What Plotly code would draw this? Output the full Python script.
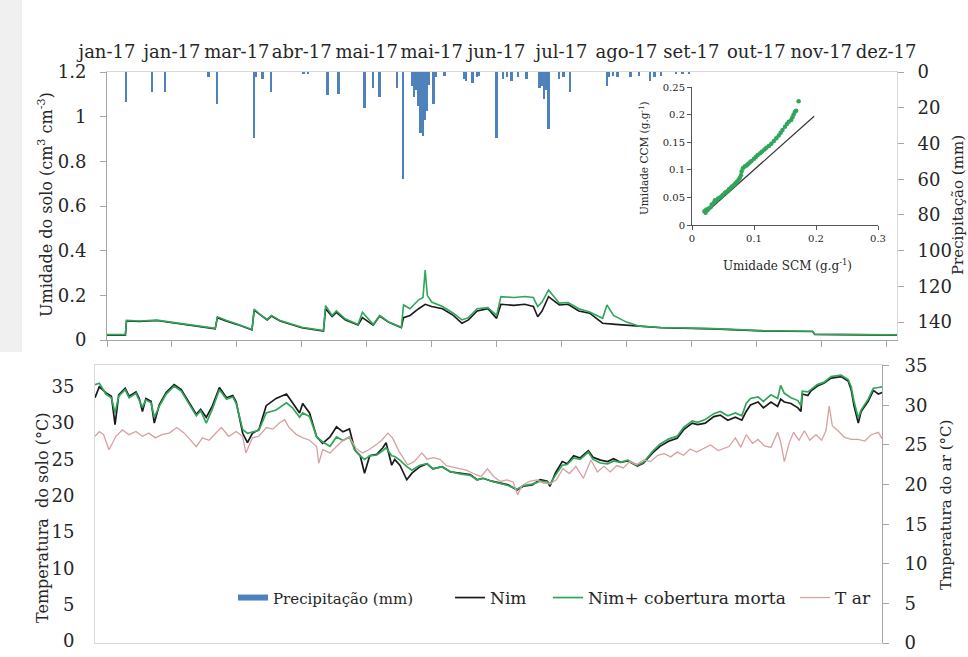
import plotly.graph_objects as go

# ---------------- dados ----------------
# eixo temporal: dias desde 01/01/2017, marcas a cada 30 dias
dias_marcas = [0, 30, 60, 90, 120, 150, 180, 210, 240, 270, 300, 330, 360]
meses = ["jan-17", "jan-17", "mar-17", "abr-17", "mai-17", "mai-17", "jun-17",
         "jul-17", "ago-17", "set-17", "out-17", "nov-17", "dez-17"]

# precipitação diária (mm)
chuva_dias = [9, 21, 27, 47, 51, 68, 69, 72, 76, 91, 93, 102, 107, 119, 123, 126, 134, 137,
              141, 142, 143, 144, 145, 146, 147, 148, 149, 151, 152, 156, 165, 166, 169, 171,
              172, 180, 183, 185, 187, 190, 194, 200, 201, 202, 203, 204, 209, 211, 214, 231,
              232, 234, 236, 242, 246, 251, 253, 256, 263, 266, 269]
chuva_mm = [17, 11, 11, 3, 18, 37, 3, 4, 11, 1, 1, 13, 12.5, 20, 9, 14, 9, 60,
            8, 14, 10, 19, 34, 36, 27, 22, 7, 18, 3, 2, 4, 5, 6, 3,
            2, 37, 4, 3, 5, 3, 4, 9, 8, 15, 10, 32, 4, 3, 11, 8,
            3, 2, 3, 3, 2, 5, 3, 2, 1, 1, 1]

# umidade do solo (cm3 cm-3) - Nim
um_dias_nim = [0, 8.5, 9, 15, 23, 30, 40, 50, 51, 55, 60, 67, 68, 71, 74, 76, 80, 90, 100, 101,
               104, 106, 110, 116, 118, 123, 126, 130, 136, 137, 140, 144, 147, 150, 155, 160,
               164, 167, 171, 176, 180, 182, 188, 193, 197, 199, 201, 204, 209, 213, 218, 223,
               229, 235, 246, 256, 280, 303, 326, 327, 365]
um_nim = [0.022, 0.022, 0.085, 0.083, 0.087, 0.078, 0.062, 0.05, 0.1, 0.085, 0.07, 0.045, 0.134,
          0.11, 0.09, 0.107, 0.085, 0.055, 0.04, 0.14, 0.105, 0.124, 0.09, 0.067, 0.1, 0.067,
          0.107, 0.08, 0.055, 0.1, 0.11, 0.14, 0.16, 0.15, 0.14, 0.11, 0.075, 0.09, 0.13, 0.14,
          0.097, 0.16, 0.155, 0.16, 0.15, 0.104, 0.13, 0.194, 0.157, 0.16, 0.13, 0.12, 0.075,
          0.07, 0.062, 0.055, 0.05, 0.04, 0.038, 0.025, 0.022]

# umidade do solo (cm3 cm-3) - Nim + cobertura morta
um_dias_cob = [0, 8.5, 9, 15, 23, 30, 40, 50, 51, 55, 60, 67, 68, 71, 74, 76, 80, 90, 100, 101,
               104, 106, 110, 116, 118, 123, 126, 130, 136, 137, 140, 144, 146, 147, 148, 150,
               155, 160, 164, 167, 171, 176, 180, 182, 188, 193, 197, 199, 201, 204, 209, 213,
               218, 223, 229, 231, 234, 240, 246, 256, 280, 303, 326, 327, 365]
um_cob = [0.024, 0.024, 0.088, 0.085, 0.089, 0.08, 0.064, 0.052, 0.104, 0.088, 0.072, 0.047,
          0.138, 0.112, 0.092, 0.11, 0.087, 0.057, 0.042, 0.154, 0.11, 0.13, 0.095, 0.07, 0.124,
          0.07, 0.11, 0.082, 0.057, 0.157, 0.14, 0.18, 0.19, 0.313, 0.2, 0.17, 0.15, 0.12, 0.09,
          0.1, 0.14, 0.145, 0.11, 0.194, 0.19, 0.195, 0.19, 0.15, 0.17, 0.224, 0.165, 0.168,
          0.14, 0.125, 0.097, 0.157, 0.11, 0.08, 0.062, 0.056, 0.051, 0.042, 0.039, 0.026, 0.023]

# dispersão: umidade sem (SCM) e com (CCM) cobertura morta (g g-1)
scm = [0.020, 0.022, 0.023, 0.025, 0.027, 0.030, 0.032, 0.035, 0.037, 0.040, 0.042, 0.045,
       0.048, 0.050, 0.053, 0.055, 0.058, 0.060, 0.063, 0.065, 0.068, 0.070, 0.072, 0.075,
       0.077, 0.079, 0.080, 0.082, 0.085, 0.088, 0.090, 0.093, 0.096, 0.100, 0.103, 0.106,
       0.110, 0.113, 0.117, 0.120, 0.124, 0.128, 0.132, 0.136, 0.140, 0.143, 0.146, 0.150,
       0.153, 0.156, 0.160, 0.162, 0.164, 0.166, 0.168, 0.172]
ccm = [0.025, 0.022, 0.028, 0.027, 0.030, 0.032, 0.037, 0.040, 0.045, 0.045, 0.048, 0.050,
       0.052, 0.055, 0.058, 0.060, 0.062, 0.065, 0.068, 0.070, 0.073, 0.075, 0.078, 0.082,
       0.085, 0.090, 0.097, 0.103, 0.106, 0.108, 0.110, 0.113, 0.116, 0.120, 0.123, 0.127,
       0.130, 0.133, 0.137, 0.140, 0.143, 0.147, 0.152, 0.157, 0.162, 0.167, 0.172, 0.178,
       0.183, 0.187, 0.190, 0.195, 0.200, 0.205, 0.207, 0.224]
linha_1_1 = [0.02, 0.197]

# temperatura do solo (°C) - Nim
t_dias = [0, 2, 5, 7.6, 9.3, 11, 14, 15.8, 19, 20.5, 22, 23.6, 26, 27.5, 29.8, 33, 36.7, 40,
          43.7, 47, 49, 51.6, 54.5, 57.7, 61, 63.9, 65.5, 68.5, 70.7, 73, 76, 79.4, 84, 88.8,
          91.6, 94.9, 96.3, 99.5, 102.8, 105.6, 109, 112, 115, 118, 120.5, 123, 125, 127.4,
          130.7, 133.5, 135, 137.6, 139, 141.4, 144.6, 147, 150.7, 154, 156.7, 161, 164.7,
          169.3, 174, 177.2, 180, 184, 188, 191.6, 195.8, 198.6, 202.8, 206.5, 209.8, 211,
          213.5, 216.7, 219, 222, 225, 228.8, 231, 234.4, 237.7, 240.5, 243.7, 247, 251.6,
          254.4, 258.6, 262, 266, 270, 273, 277, 279.5, 283, 287, 290, 293.5, 297, 300, 302,
          304, 307.5, 310, 313.5, 316.6, 318, 319.7, 322.8, 326, 327.4, 328, 330.6, 332, 335,
          338, 341.4, 346, 349.3, 350.7, 352, 354, 355.3, 358.6, 361, 363.3, 365]
t_nim = [33.5, 35.0, 34.2, 33.7, 29.8, 33.9, 34.8, 33.7, 34.3, 33.4, 31.6, 33.4, 33.0, 30.0,
         32.5, 34.2, 35.3, 34.6, 32.8, 31.2, 31.9, 30.8, 32.4, 34.9, 33.5, 33.8, 32.9, 28.6,
         27.3, 28.6, 29.1, 32.4, 33.4, 34.0, 32.8, 31.4, 32.7, 31.4, 28.1, 27.2, 28.1, 29.5,
         28.8, 29.2, 26.3, 25.5, 23.1, 25.5, 25.7, 26.6, 27.3, 24.2, 25.0, 24.2, 22.2, 23.1,
         24.0, 24.4, 23.7, 24.0, 23.3, 23.1, 22.9, 22.2, 22.4, 22.0, 21.7, 21.5, 20.8, 21.3,
         21.5, 22.2, 22.0, 21.3, 23.1, 24.7, 24.4, 25.5, 25.2, 26.2, 25.3, 24.9, 24.7, 25.1,
         24.6, 24.8, 24.1, 24.5, 25.9, 26.8, 27.5, 27.9, 29.1, 30.0, 29.8, 30.0, 30.9, 31.1,
         30.4, 30.8, 30.4, 31.6, 32.5, 32.9, 32.1, 32.9, 32.3, 33.3, 32.9, 32.7, 32.1, 31.6,
         34.0, 33.8, 34.4, 35.1, 35.5, 36.2, 36.4, 35.8, 34.6, 32.4, 30.0, 31.6, 33.0, 34.5,
         34.0, 34.2]

# temperatura do solo (°C) - Nim + cobertura morta
t_cob = [35.3, 35.5, 34.0, 33.5, 31.4, 33.7, 34.6, 33.5, 34.1, 33.2, 32.2, 33.2, 32.8, 30.8,
         32.3, 34.0, 35.1, 34.4, 32.6, 31.0, 31.7, 30.0, 32.0, 34.6, 33.3, 33.6, 32.7, 29.1,
         28.6, 28.8, 29.0, 31.4, 31.8, 32.8, 32.1, 30.8, 31.4, 30.9, 28.1, 27.4, 26.8, 28.1,
         27.6, 28.1, 26.3, 25.5, 25.0, 25.5, 25.6, 26.2, 26.6, 25.5, 25.4, 24.9, 24.0, 23.5,
         24.2, 24.4, 23.7, 24.0, 23.3, 23.0, 22.8, 22.2, 22.4, 22.0, 21.7, 21.4, 20.9, 21.4,
         21.6, 22.0, 21.9, 21.6, 22.8, 24.2, 24.3, 25.2, 25.0, 26.0, 25.0, 24.5, 24.4, 24.8,
         24.6, 24.9, 24.2, 24.6, 26.1, 27.1, 27.8, 28.2, 29.4, 30.3, 30.1, 30.5, 31.3, 31.6,
         31.0, 31.4, 31.0, 32.7, 33.4, 33.6, 33.0, 33.9, 33.4, 35.2, 34.1, 33.5, 33.1, 32.4,
         34.4, 34.3, 34.6, 35.3, 35.6, 36.4, 36.6, 36.0, 35.0, 33.0, 30.7, 31.8, 33.3, 34.8,
         34.9, 35.0]

# temperatura do ar (°C)
tar_dias = [0, 2, 4, 6.5, 9.7, 12.7, 15.8, 19, 22, 25, 28, 31, 34.4, 38, 41.4, 44.6, 47, 49.8,
            53, 55.3, 58.6, 62, 65.5, 68.4, 70, 73, 76, 79.5, 82.5, 85.6, 88, 90, 93.5, 96.5,
            99.5, 102.8, 103.8, 105.6, 109, 112, 115, 118, 121, 124, 127, 130.7, 133, 135.8,
            138, 141, 145, 148, 151.6, 154, 157, 160, 163, 166, 169, 172.5, 175.5, 179, 182,
            185, 188, 191, 194, 196, 198, 201.5, 205, 208, 211, 214, 217, 220, 223, 226.5, 230,
            233, 236, 239, 242, 245, 248, 251, 254.5, 257.7, 261, 264, 267, 270, 273, 276, 279,
            282, 285.5, 289, 291.5, 294, 297, 299.5, 302, 305, 307.5, 310.5, 313.5, 316.6, 318,
            319.7, 322, 324, 326.5, 329, 331.5, 334.4, 337, 339, 340.5, 342, 344.6, 347.5,
            350.7, 354, 357, 360, 363.3, 365]
t_ar = [26.1, 26.7, 26.3, 24.4, 26.1, 26.9, 26.3, 26.7, 26.1, 26.5, 25.9, 26.3, 26.5, 27.2,
        26.5, 25.6, 24.8, 25.9, 25.6, 26.3, 27.2, 26.1, 26.7, 26.1, 24.0, 25.9, 26.1, 27.2,
        27.0, 27.8, 28.2, 27.2, 26.3, 25.9, 25.6, 24.8, 22.7, 24.4, 24.0, 24.8, 25.6, 26.0,
        24.6, 24.0, 24.4, 25.1, 25.6, 26.5, 25.9, 24.2, 22.5, 22.9, 24.0, 23.2, 23.4, 23.2,
        22.4, 22.2, 22.0, 21.8, 21.4, 21.0, 22.0, 21.0, 20.4, 20.6, 20.3, 18.7, 19.9, 20.4,
        20.6, 20.2, 20.1, 20.6, 22.0, 21.4, 22.3, 20.8, 23.1, 21.6, 22.3, 21.6, 22.4, 22.1,
        22.9, 22.5, 23.1, 22.9, 23.7, 23.9, 23.5, 24.1, 23.7, 24.5, 24.1, 24.5, 25.0, 24.3,
        24.5, 24.8, 25.9, 24.7, 26.3, 25.2, 25.7, 24.9, 24.7, 26.6, 25.4, 22.9, 25.3, 26.6,
        25.6, 26.8, 25.6, 26.3, 25.6, 26.8, 29.9, 27.4, 26.8, 26.0, 25.7, 25.7, 25.5, 26.3,
        26.6, 25.8]

# ---------------- estilo ----------------
W, H = 968, 657
SERIF = "DejaVu Serif"
TXT = "#262626"
AX = "#a6a6a6"
AX_LEVE = "#d9d9d9"
AZUL = "#4f81bd"
PRETO = "#1a1a1a"
VERDE = "#2fa65a"
ROSA = "#d9a0a0"


def fx(x):
    return x / W


def fy(y):
    return 1 - y / H


fig = go.Figure()

# ---- painel superior: precipitação (eixo direito invertido) ----
fig.add_trace(go.Bar(x=chuva_dias, y=chuva_mm, width=0.9, marker_color=AZUL,
                     marker_line_width=0, xaxis="x", yaxis="y2", showlegend=False))
# ---- painel superior: umidade do solo ----
fig.add_trace(go.Scatter(x=um_dias_nim, y=um_nim, mode="lines", line=dict(color=PRETO, width=1.6),
                         xaxis="x", yaxis="y", showlegend=False))
fig.add_trace(go.Scatter(x=um_dias_cob, y=um_cob, mode="lines", line=dict(color=VERDE, width=1.6),
                         xaxis="x4", yaxis="y", showlegend=False))

# ---- gráfico inserido ----
fig.add_trace(go.Scatter(x=linha_1_1, y=linha_1_1, mode="lines", line=dict(color="#333333", width=1.2),
                         xaxis="x2", yaxis="y3", showlegend=False))
fig.add_trace(go.Scatter(x=scm, y=ccm, mode="markers", marker=dict(color=VERDE, size=4.5),
                         xaxis="x2", yaxis="y3", showlegend=False))

# ---- painel inferior: temperaturas ----
fig.add_trace(go.Scatter(x=[None], y=[None], mode="lines", line=dict(color=AZUL, width=6),
                         name='<span style="font-size:15px">Precipitação (mm)</span>',
                         xaxis="x3", yaxis="y4", legend="legend"))
fig.add_trace(go.Scatter(x=t_dias, y=t_nim, mode="lines", line=dict(color=PRETO, width=1.7),
                         name="Nim", xaxis="x3", yaxis="y4", legend="legend2"))
fig.add_trace(go.Scatter(x=t_dias, y=t_cob, mode="lines", line=dict(color=VERDE, width=1.7),
                         name="Nim+ cobertura morta", xaxis="x3", yaxis="y4", legend="legend3"))
fig.add_trace(go.Scatter(x=tar_dias, y=t_ar, mode="lines", line=dict(color=ROSA, width=1.3),
                         name="T ar", xaxis="x3", yaxis="y5", legend="legend4"))

tick_font = dict(family=SERIF, size=18, color=TXT)
small_font = dict(family=SERIF, size=10, color=TXT)
leg_font = dict(family=SERIF, size=17, color=TXT)

top_dom_x = [fx(107), fx(897)]
top_dom_y = [fy(340), fy(72)]
bot_dom_x = [fx(95), fx(882)]
bot_dom_y = [fy(643), fy(365)]

common = dict(showgrid=False, zeroline=False, automargin=False)


def leg(x_px):
    return dict(orientation="h", x=fx(x_px), y=fy(598), xanchor="left", yanchor="middle",
                font=leg_font, bgcolor="rgba(0,0,0,0)", borderwidth=0, itemwidth=30)


fig.update_layout(
    template="none",
    width=W, height=H,
    margin=dict(l=0, r=0, t=0, b=0, autoexpand=False),
    paper_bgcolor="white", plot_bgcolor="rgba(0,0,0,0)",
    font=dict(family=SERIF, color=TXT),
    bargap=0,
    # painel superior
    xaxis=dict(domain=top_dom_x, range=[0, 365], side="top", anchor="y",
               tickmode="array", tickvals=dias_marcas, ticktext=meses,
               ticks="", showline=True, linecolor=AX_LEVE, linewidth=1,
               tickfont=tick_font, ticklabelstandoff=6, **common),
    xaxis4=dict(overlaying="x", matches="x", side="bottom", anchor="y",
                tickmode="array", tickvals=dias_marcas, showticklabels=False,
                ticks="outside", ticklen=6, tickcolor=AX, showline=True, linecolor=AX, **common),
    yaxis=dict(domain=top_dom_y, range=[0, 1.2], anchor="x",
               tickmode="array", tickvals=[0, 0.2, 0.4, 0.6, 0.8, 1.0, 1.2],
               ticktext=["0", "0.2", "0.4", "0.6", "0.8", "1", "1.2"],
               ticks="outside", ticklen=6, tickcolor=AX, showline=True, linecolor=AX,
               tickfont=tick_font, ticklabelstandoff=10, **common),
    yaxis2=dict(overlaying="y", side="right", anchor="x", range=[150, 0],
                tickmode="array", tickvals=[0, 20, 40, 60, 80, 100, 120, 140],
                ticks="outside", ticklen=6, tickcolor=AX, showline=True, linecolor=AX_LEVE,
                tickfont=tick_font, ticklabelstandoff=10, **common),
    # gráfico inserido
    xaxis2=dict(domain=[fx(692), fx(878)], anchor="y3", range=[0, 0.3],
                tickmode="array", tickvals=[0, 0.1, 0.2, 0.3], ticktext=["0", "0.1", "0.2", "0.3"],
                ticks="outside", ticklen=4, tickcolor="#555", showline=True, linecolor="#555",
                tickfont=small_font, **common),
    yaxis3=dict(domain=[fy(225), fy(87)], anchor="x2", range=[0, 0.25],
                tickmode="array", tickvals=[0, 0.05, 0.1, 0.15, 0.2, 0.25],
                ticktext=["0", "0.05", "0.1", "0.15", "0.2", "0.25"],
                ticks="outside", ticklen=4, tickcolor="#555", showline=True, linecolor="#555",
                tickfont=small_font, **common),
    # painel inferior
    xaxis3=dict(domain=bot_dom_x, anchor="y4", range=[0, 365], showticklabels=False,
                ticks="", showline=True, mirror=True, linecolor=AX_LEVE, **common),
    yaxis4=dict(domain=bot_dom_y, anchor="x3", range=[-0.28, 38.0],
                tickmode="array", tickvals=[0, 5, 10, 15, 20, 25, 30, 35],
                ticks="", showline=True, mirror=True, linecolor=AX_LEVE,
                tickfont=tick_font, ticklabelstandoff=16, **common),
    yaxis5=dict(overlaying="y4", side="right", anchor="x3", range=[0, 35.1],
                tickmode="array", tickvals=[0, 5, 10, 15, 20, 25, 30, 35],
                ticks="outside", ticklen=6, tickcolor=AX, showline=True, linecolor=AX,
                tickfont=tick_font, ticklabelstandoff=12, **common),
    showlegend=True,
    legend=leg(233),
    legend2=leg(450),
    legend3=leg(548),
    legend4=leg(795),
    shapes=[dict(type="rect", xref="paper", yref="paper", x0=0, x1=fx(22), y0=fy(352), y1=1,
                 fillcolor="#f0f0f0", line_width=0, layer="below")],
)

# títulos dos eixos
anns = [
    dict(text="Umidade do solo (cm<sup>3</sup> cm<sup>-3</sup>)", x=fx(45), y=fy(205), textangle=-90,
         font=dict(family=SERIF, size=16, color=TXT)),
    dict(text="Precipitação (mm)", x=fx(958), y=fy(205), textangle=-90,
         font=dict(family=SERIF, size=15, color=TXT)),
    dict(text="Temperatura  do solo (°C)", x=fx(42), y=fy(518), textangle=-90,
         font=dict(family=SERIF, size=16, color=TXT)),
    dict(text="Tmperatura do ar (°C)", x=fx(946), y=fy(505), textangle=-90,
         font=dict(family=SERIF, size=15, color=TXT)),
    dict(text="Umidade SCM (g.g<sup>-1</sup>)", x=fx(787), y=fy(265),
         font=dict(family=SERIF, size=12, color=TXT)),
    dict(text="Umidade CCM (g.g<sup>-1</sup>)", x=fx(643), y=fy(158), textangle=-90,
         font=dict(family=SERIF, size=10.5, color=TXT)),
]
for a in anns:
    a.update(xref="paper", yref="paper", showarrow=False, xanchor="center", yanchor="middle")
    fig.add_annotation(**a)

fig.write_html("out.html")
